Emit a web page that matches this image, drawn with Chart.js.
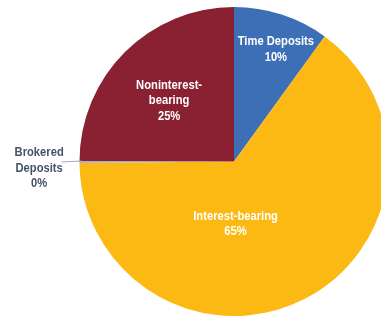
<!DOCTYPE html>
<html><head><meta charset="utf-8">
<script src="https://cdn.jsdelivr.net/npm/chart.js@4/dist/chart.umd.min.js"></script>
<style>
html,body{margin:0;padding:0;background:#fff;overflow:hidden;width:381px;height:320px;}
#wrap{position:absolute;left:0;top:0;width:468px;height:323px;}
</style></head>
<body>
<div id="wrap"><canvas id="c" width="468" height="323"></canvas></div>
<script>
const categories = ["Time Deposits", "Interest-bearing", "Brokered Deposits", "Noninterest-bearing"];
const values = [10, 65, 0.2, 25];
const percentLabels = ["10%", "65%", "0%", "25%"];
const labelLines = [["Time Deposits"], ["Interest-bearing"], ["Brokered", "Deposits"], ["Noninterest-", "bearing"]];
const colors = ["#3D6FB6", "#FCB813", "#A7B4C6", "#8A2133"];
// label placement relative to pie centre, in units of radius
const labelOffsets = [[0.271, -0.726], [0.01, 0.403], [-1.261, 0.042], [-0.42, -0.395]];
const labelColors = ["#FFFFFF", "#FFFFFF", "#44546A", "#FFFFFF"];

const labelPlugin = {
  id: 'sliceLabels',
  afterDatasetsDraw(chart) {
    const ctx = chart.ctx;
    const meta = chart.getDatasetMeta(0);
    meta.data.forEach((arc, i) => {
      const p = arc.getProps(['x', 'y', 'outerRadius'], true);
      const lx = p.x + labelOffsets[i][0] * p.outerRadius;
      const ly = p.y + labelOffsets[i][1] * p.outerRadius;
      if (i === 2) {
        ctx.save();
        ctx.strokeStyle = "#A3ADBB";
        ctx.lineWidth = 1;
        ctx.beginPath();
        ctx.moveTo(p.x - p.outerRadius + 2, p.y - 0.5);
        ctx.lineTo(p.x - 1.115 * p.outerRadius, p.y + 0.5);
        ctx.stroke();
        ctx.restore();
      }
      const lines = labelLines[i].concat([percentLabels[i]]);
      const lh = 15.5;
      const sx = 0.83;
      const start = ly - (lines.length - 1) * lh / 2;
      lines.forEach((t, k) => {
        ctx.save();
        ctx.translate(lx, start + k * lh);
        ctx.scale(sx, 1);
        ctx.font = "bold 13.5px 'Liberation Sans', Arial, sans-serif";
        ctx.fillStyle = labelColors[i];
        ctx.textAlign = 'center';
        ctx.textBaseline = 'middle';
        ctx.fillText(t, 0, 0);
        ctx.restore();
      });
    });
  }
};

new Chart(document.getElementById('c'), {
  type: 'pie',
  data: {
    labels: categories,
    datasets: [{ data: values, backgroundColor: colors, borderWidth: 0 }]
  },
  options: {
    responsive: false,
    animation: false,
    layout: { padding: { top: 7, bottom: 7, left: 0, right: 0 } },
    plugins: { legend: { display: false }, tooltip: { enabled: false } }
  },
  plugins: [labelPlugin]
});
</script>
</body></html>
